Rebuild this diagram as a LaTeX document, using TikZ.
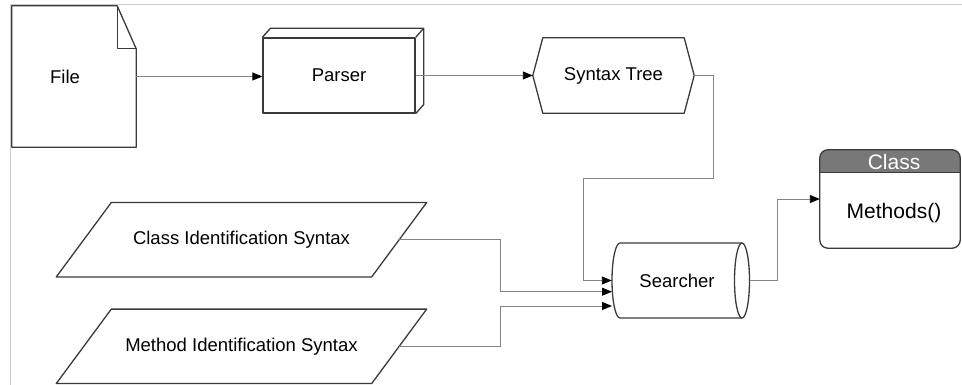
\documentclass[tikz,border=0pt]{standalone}
\usepackage{fontspec}
\setmainfont{Liberation Sans}
\usetikzlibrary{arrows.meta}
\definecolor{outline}{HTML}{3A3A3A}
\definecolor{wire}{HTML}{858585}
\definecolor{frame}{HTML}{CCCCCC}
\definecolor{header}{HTML}{787878}
\tikzset{
  shapeline/.style={draw=outline, line width=1.3pt, line join=round},
  holder/.style={draw=none, inner sep=0pt, font=\fontsize{18.5}{21}\selectfont},
  conn/.style={draw=wire, line width=0.9pt,
    -{Triangle[length=10pt,width=8pt,color=black]}},
}
\begin{document}
\begin{tikzpicture}[x=1pt,y=-1pt]
\useasboundingbox (0,0) rectangle (962,385);

% page frame
\draw[frame, line width=1pt] (962,4.5) -- (10.5,4.5) -- (10.5,385);

% --- File (document with folded corner)
\node[holder, minimum width=124pt, minimum height=141pt] (file) at (74,76.5) {};
\draw[shapeline] (file.north west) -- ([xshift=-19pt]file.north east)
  -- ([yshift=-43pt]file.north east) -- (file.south east) -- (file.south west) -- cycle;
\draw[shapeline] ([xshift=-19pt]file.north east) |- ([yshift=-43pt]file.north east);
\node[holder] (filetext) at (65,77) {File};

% --- Parser (3D box)
\node[holder, shapeline, minimum width=152pt, minimum height=75pt] (parser) at (339,75.5) {Parser};
\draw[shapeline] (parser.north west) -- ([shift={(8pt,9pt)}]parser.north west)
  -- ([shift={(8pt,9pt)}]parser.north east) -- ([shift={(8pt,9pt)}]parser.south east)
  -- (parser.south east);
\draw[shapeline] ([shift={(8pt,9pt)}]parser.north east) -- (parser.north east);

% --- Syntax Tree (hexagon)
\node[holder, minimum width=161pt, minimum height=75pt] (tree) at (613.5,75.5) {Syntax Tree};
\draw[shapeline] (tree.west) -- ([xshift=10pt]tree.north west) -- ([xshift=-10pt]tree.north east)
  -- (tree.east) -- ([xshift=-10pt]tree.south east) -- ([xshift=10pt]tree.south west) -- cycle;

% --- Identification syntax inputs (parallelograms)
\node[holder, minimum width=315pt, minimum height=74pt] (cis) at (241.5,239.7) {Class Identification Syntax};
\draw[shapeline] ([xshift=27.5pt]cis.north west) -- ([xshift=27.5pt]cis.north east)
  -- ([xshift=-27.5pt]cis.south east) -- ([xshift=-27.5pt]cis.south west) -- cycle;
\node[holder, minimum width=315pt, minimum height=74pt] (mis) at (241.5,346.3) {Method Identification Syntax};
\draw[shapeline] ([xshift=27.5pt]mis.north west) -- ([xshift=27.5pt]mis.north east)
  -- ([xshift=-27.5pt]mis.south east) -- ([xshift=-27.5pt]mis.south west) -- cycle;

% --- Searcher (horizontal cylinder)
\node[holder, minimum width=137.5pt, minimum height=75pt] (search) at (680.75,280.5) {};
\node[holder] (searchtext) at (677,280.5) {Searcher};
\draw[shapeline] (742,243) -- (620,243)
  .. controls (615.6,243) and (612,259.8) .. (612,280.5)
  .. controls (612,301.2) and (615.6,318) .. (620,318) -- (742,318);
\draw[shapeline] (742,280.5) ellipse [x radius=7.5pt, y radius=37.5pt];

% --- Class (rounded box with header)
\node[holder, minimum width=140pt, minimum height=98pt] (cls) at (890,199) {};
\begin{scope}
  \clip (cls.north west) rectangle ([yshift=-23pt]cls.north east);
  \fill[header, rounded corners=8pt] (cls.north west) rectangle (cls.south east);
\end{scope}
\draw[shapeline, rounded corners=8pt] (cls.north west) rectangle (cls.south east);
\draw[shapeline] ([yshift=-23pt]cls.north west) -- ([yshift=-23pt]cls.north east);
\node[holder, text=white, font=\fontsize{21}{24}\selectfont] (clsname) at (894,161.5) {Class};
\node[holder, font=\fontsize{21}{24}\selectfont] (clsmeth) at (894,213) {Methods()};

% --- connectors
\coordinate (j1) at (713,178);
\coordinate (j2) at (583,178);
\coordinate (c1) at (500,239.7);
\coordinate (c2) at (500,346.3);
\coordinate (s1) at (612,291.7);
\coordinate (s2) at (612,306);
\coordinate (k1) at (777,280.5);

\draw[conn] (file.east) -- (file.east -| parser.west);
\draw[conn] (parser.east) -- (tree.west);
\draw[conn] (tree.east) -| (j1) -- (j2) |- (search.west);
\draw[conn] (cis.east) -- (c1) |- (s1);
\draw[conn] (mis.east) -- (c2) |- (s2);
\draw[conn] (search.east) -- (k1) |- (cls.west);
\end{tikzpicture}
\end{document}
